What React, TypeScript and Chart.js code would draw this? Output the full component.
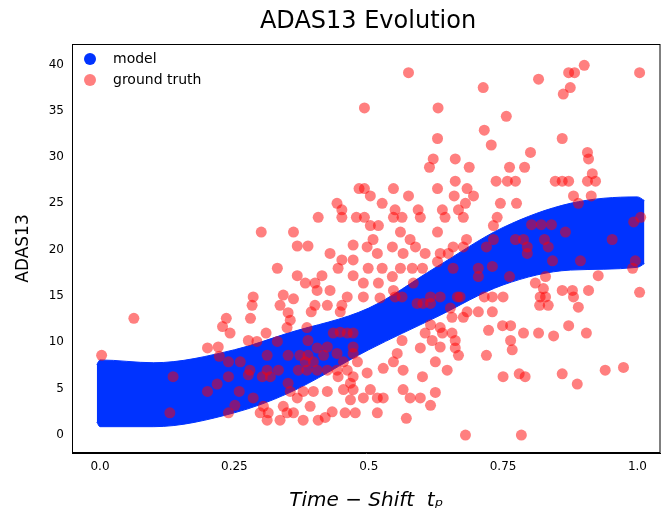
import React, { useEffect, useRef } from 'react';
import { Chart, registerables } from 'chart.js';

Chart.register(...registerables);

// model band edges (envelope of the blue point cloud)
const bandX = [-0.006, 0.0, 0.1, 0.25, 0.35, 0.5, 0.625, 0.75, 0.875, 1.0, 1.013];
const bandUpper = [7.6, 8.1, 7.8, 9.2, 11.0, 13.7, 18.1, 22.4, 25.0, 25.7, 25.3];
const bandLower = [1.4, 0.9, 0.9, 2.4, 4.5, 9.2, 12.7, 16.2, 17.8, 18.1, 18.5];

// ground truth observations [time shift, ADAS13]
const truthX = [
  0.003, 0.063, 0.136, 0.13, 0.2, 0.2, 0.218, 0.22, 0.228, 0.235, 0.242, 0.222, 0.239, 0.239, 0.261, 0.259, 0.251, 0.239,
  0.28, 0.283, 0.285, 0.276, 0.3, 0.33, 0.36, 0.367, 0.387, 0.406, 0.441, 0.45, 0.45, 0.477, 0.482, 0.367, 0.382, 0.4,
  0.413, 0.404, 0.428, 0.443, 0.45, 0.428, 0.471, 0.471, 0.471, 0.335, 0.341, 0.36, 0.35, 0.354, 0.348, 0.385, 0.393,
  0.4, 0.423, 0.45, 0.447, 0.46, 0.292, 0.309, 0.33, 0.311, 0.279, 0.302, 0.317, 0.332, 0.311, 0.35, 0.35, 0.372, 0.387,
  0.387, 0.404, 0.416, 0.423, 0.434, 0.447, 0.46, 0.471, 0.471, 0.441, 0.453, 0.471, 0.479, 0.382, 0.397, 0.369, 0.385,
  0.404, 0.423, 0.441, 0.46, 0.471, 0.443, 0.466, 0.453, 0.471, 0.423, 0.397, 0.378, 0.354, 0.367, 0.391, 0.341, 0.36,
  0.348, 0.304, 0.298, 0.313, 0.311, 0.335, 0.378, 0.406, 0.419, 0.432, 0.456, 0.475, 0.466, 0.285, 0.276,
  0.574, 0.492, 0.629, 0.713, 0.816, 0.872, 0.883, 0.901, 0.875, 0.862, 1.004, 0.756, 0.715, 0.728, 0.628, 0.86, 0.801,
  0.907, 0.909, 0.62, 0.613, 0.661, 0.687, 0.762, 0.79, 0.916, 0.907, 0.922, 0.847, 0.86, 0.872, 0.881, 0.914, 0.89,
  0.737, 0.758, 0.773, 0.745, 0.775, 0.739, 0.732, 0.661, 0.628, 0.683, 0.659, 0.695, 0.68, 0.637, 0.667, 0.642, 0.676,
  0.628, 0.574, 0.546, 0.492, 0.503, 0.525, 0.549, 0.592, 0.492, 0.518, 0.546, 0.562, 0.596, 0.559, 0.503, 0.508, 0.497,
  0.544, 0.577, 0.587, 0.516, 0.564, 0.605, 0.633, 0.648, 0.682, 0.676, 0.657, 0.499, 0.525, 0.544, 0.559, 0.581, 0.6,
  0.628, 0.49, 0.518, 0.546, 0.583, 0.549, 0.562, 0.49, 0.521, 0.59, 0.601, 0.615, 0.615, 0.633, 0.652, 0.683, 0.704,
  0.73, 0.73, 0.75, 0.67, 0.715, 0.655, 0.676, 0.633, 0.615, 0.605, 0.637, 0.655, 0.618, 0.661, 0.633, 0.661, 0.667,
  0.723, 0.749, 0.764, 0.764, 0.767, 0.719, 0.788, 0.816, 0.844, 0.872, 0.905, 0.86, 0.879, 0.881, 0.89, 0.909, 0.927,
  0.991, 1.004, 0.81, 0.825, 0.819, 0.829, 0.818, 0.834, 0.75, 0.78, 0.791, 0.86, 0.888, 0.94, 0.974, 0.68, 0.784,
  0.803, 0.821, 0.84, 0.866, 0.773, 0.788, 0.795, 0.795, 0.827, 0.834, 0.842, 0.894, 0.953, 0.993, 1.006, 0.996, 0.829,
  0.762, 0.73, 0.719, 0.732, 0.704, 0.704, 0.665, 0.657, 0.497, 0.516, 0.527, 0.516, 0.564, 0.577, 0.596, 0.615, 0.624,
  0.57, 0.6, 0.624, 0.646, 0.564, 0.546, 0.562, 0.553, 0.596, 0.527, 0.49, 0.503,
];
const truthY = [
  8.6, 12.6, 6.3, 2.4, 9.4, 4.7, 5.5, 9.5, 11.7, 12.6, 11.0, 8.5, 7.9, 6.3, 7.9, 4.7, 3.2, 2.4,
  12.6, 14.0, 14.9, 10.2, 21.9, 18.0, 21.9, 20.4, 20.4, 23.5, 25.0, 24.3, 23.5, 23.5, 26.6, 17.2, 16.4, 16.4,
  17.2, 15.6, 15.6, 18.0, 18.9, 19.6, 20.5, 18.9, 17.2, 14.0, 15.1, 14.7, 13.2, 12.4, 11.6, 11.6, 13.3,
  14.0, 14.0, 14.0, 13.3, 14.9, 10.1, 11.0, 10.1, 8.6, 7.0, 6.3, 6.3, 7.0, 7.0, 8.6, 5.6, 8.6, 10.2,
  8.6, 9.4, 8.6, 9.5, 11.0, 11.1, 11.0, 11.0, 9.5, 8.8, 7.9, 8.8, 7.9, 7.9, 7.9, 7.0, 7.0,
  7.0, 7.0, 7.0, 7.0, 6.3, 6.3, 5.6, 4.9, 4.9, 4.7, 4.7, 4.7, 4.7, 4.0, 3.1, 3.1, 2.4,
  2.4, 3.1, 2.4, 2.4, 1.6, 1.6, 1.6, 1.6, 1.9, 2.5, 2.4, 2.4, 3.8, 4.0, 6.5,
  39.1, 35.3, 35.3, 37.5, 38.4, 39.1, 39.1, 39.9, 37.5, 36.8, 39.1, 34.4, 32.9, 31.3, 32.0, 32.0, 30.5,
  30.5, 29.8, 29.8, 28.9, 29.8, 28.9, 28.9, 28.9, 28.2, 27.4, 27.4, 27.4, 27.4, 27.4, 25.8, 25.8, 25.0,
  27.4, 27.4, 27.4, 25.0, 25.0, 23.5, 22.6, 27.4, 26.6, 26.6, 25.8, 25.8, 25.0, 24.3, 24.3, 23.5, 23.5,
  21.9, 25.8, 26.6, 26.6, 25.8, 25.0, 24.3, 24.3, 23.5, 22.6, 23.5, 23.5, 23.5, 21.9, 22.6, 21.1, 20.3,
  20.3, 21.1, 20.3, 19.6, 19.6, 19.6, 19.6, 19.6, 21.1, 20.3, 20.3, 18.0, 18.0, 17.1, 18.0, 18.0, 18.0,
  18.7, 16.4, 16.4, 15.6, 16.4, 14.9, 14.9, 14.9, 14.8, 14.2, 14.2, 14.2, 14.9, 14.9, 13.7, 13.3, 13.3,
  13.3, 14.9, 14.9, 14.9, 14.9, 12.7, 12.7, 11.6, 11.9, 11.0, 11.0, 11.0, 10.2, 10.2, 9.5, 9.4, 8.6,
  11.3, 11.8, 11.8, 10.2, 9.2, 8.6, 11.0, 11.0, 10.7, 11.8, 11.0, 15.6, 15.6, 14.9, 13.8, 15.6, 17.2,
  18.0, 15.4, 16.4, 15.8, 14.9, 14.9, 14.0, 14.0, 6.3, 6.6, 6.3, 6.6, 5.5, 7.0, 7.3, 0.0, 0.0,
  22.7, 22.7, 22.7, 21.9, 21.1, 21.1, 20.3, 19.6, 21.1, 20.3, 18.8, 18.8, 21.1, 23.0, 23.5, 18.8, 17.1,
  17.1, 18.2, 20.3, 21.1, 18.0, 17.1, 14.9, 18.0, 6.7, 4.0, 4.0, 2.4, 4.9, 4.0, 4.0, 3.2, 4.6,
  1.8, 6.3, 7.9, 7.0, 7.0, 7.9, 10.2, 8.8, 9.4, 7.2, 4.0, 4.9,
];

const xTicks = [0, 0.25, 0.5, 0.75, 1.0];
const xTickLabels = ['0.0', '0.25', '0.5', '0.75', '1.0'];
const yTicks = [0, 5, 10, 15, 20, 25, 30, 35, 40];

const BLUE = 'rgb(0, 51, 255)';
const RED = 'rgba(255, 0, 0, 0.5)';

const decor = {
  id: 'decor',
  afterDraw(chart: any) {
    const { ctx, chartArea: a } = chart;
    ctx.save();
    ctx.strokeStyle = '#000';
    ctx.lineWidth = 1;
    ctx.strokeRect(a.left + 0.5, a.top + 0.5, a.right - a.left - 1, a.bottom - a.top - 1);
    ctx.fillStyle = '#000';
    ctx.font = '24px "DejaVu Sans"';
    ctx.textAlign = 'center';
    ctx.textBaseline = 'middle';
    ctx.fillText('ADAS13 Evolution', 368, 22);
    // y axis title
    ctx.save();
    ctx.translate(24, (a.top + a.bottom) / 2);
    ctx.rotate(-Math.PI / 2);
    ctx.font = '17px "DejaVu Sans"';
    ctx.fillText('ADAS13', 0, 0);
    ctx.restore();
    // legend
    ctx.font = '14px "DejaVu Sans"';
    ctx.textAlign = 'left';
    ctx.beginPath();
    ctx.fillStyle = BLUE;
    ctx.arc(a.left + 18, a.top + 15, 6, 0, Math.PI * 2);
    ctx.fill();
    ctx.beginPath();
    ctx.fillStyle = RED;
    ctx.arc(a.left + 18, a.top + 36, 6, 0, Math.PI * 2);
    ctx.fill();
    ctx.fillStyle = '#000';
    ctx.fillText('model', a.left + 41, a.top + 15);
    ctx.fillText('ground truth', a.left + 41, a.top + 36);
    ctx.restore();
  },
};

export default function App() {
  const canvasRef = useRef<HTMLCanvasElement | null>(null);

  useEffect(() => {
    document.body.style.margin = '0';
    document.body.style.overflow = 'hidden';
    if (!canvasRef.current) return;
    const chart = new Chart(canvasRef.current, {
      type: 'scatter',
      data: {
        datasets: [
          {
            type: 'line',
            data: bandX.map((x, i) => ({ x, y: bandLower[i] })),
            borderColor: BLUE,
            borderWidth: 1,
            pointRadius: 0,
            fill: false,
            cubicInterpolationMode: 'monotone',
            order: 2,
          },
          {
            type: 'line',
            data: bandX.map((x, i) => ({ x, y: bandUpper[i] })),
            borderColor: BLUE,
            backgroundColor: BLUE,
            borderWidth: 1,
            pointRadius: 0,
            fill: '-1',
            cubicInterpolationMode: 'monotone',
            order: 2,
          },
          {
            data: truthX.map((x, i) => ({ x, y: truthY[i] })),
            backgroundColor: RED,
            borderWidth: 0,
            pointRadius: 5.5,
            order: 1,
          },
        ],
      },
      options: {
        animation: false,
        responsive: false,
        layout: { padding: { top: 44, right: 1, left: 0, bottom: 0 } },
        plugins: { legend: { display: false }, tooltip: { enabled: false } },
        scales: {
          x: {
            type: 'linear',
            min: -0.0521,
            max: 1.0429,
            grid: { display: false, drawTicks: true, tickLength: 4, tickColor: '#000' },
            border: { color: '#000' },
            afterBuildTicks: (s: any) => {
              s.ticks = xTicks.map((v) => ({ value: v }));
            },
            ticks: {
              color: '#000',
              font: { family: 'DejaVu Sans', size: 12 },
              maxRotation: 0,
              callback: (v: any) => xTickLabels[xTicks.indexOf(v)] ?? '',
            },
            title: {
              display: true,
              text: 'Time − Shift  tₚ',
              color: '#000',
              font: { family: 'DejaVu Sans', size: 20, style: 'italic' },
              padding: { top: 4, bottom: 0 },
            },
            afterFit: (s: any) => {
              s.height = 60;
            },
          },
          y: {
            type: 'linear',
            min: -1.94,
            max: 42.2,
            grid: { display: false, drawTicks: true, tickLength: 4, tickColor: '#000' },
            border: { color: '#000' },
            afterBuildTicks: (s: any) => {
              s.ticks = yTicks.map((v) => ({ value: v }));
            },
            ticks: {
              color: '#000',
              font: { family: 'DejaVu Sans', size: 12 },
              padding: 4,
            },
            afterFit: (s: any) => {
              s.width = 72;
            },
          },
        },
      },
      plugins: [decor],
    });
    return () => chart.destroy();
  }, []);

  return (
    <canvas ref={canvasRef} width={666} height={513} style={{ display: 'block', width: 666, height: 513 }} />
  );
}
